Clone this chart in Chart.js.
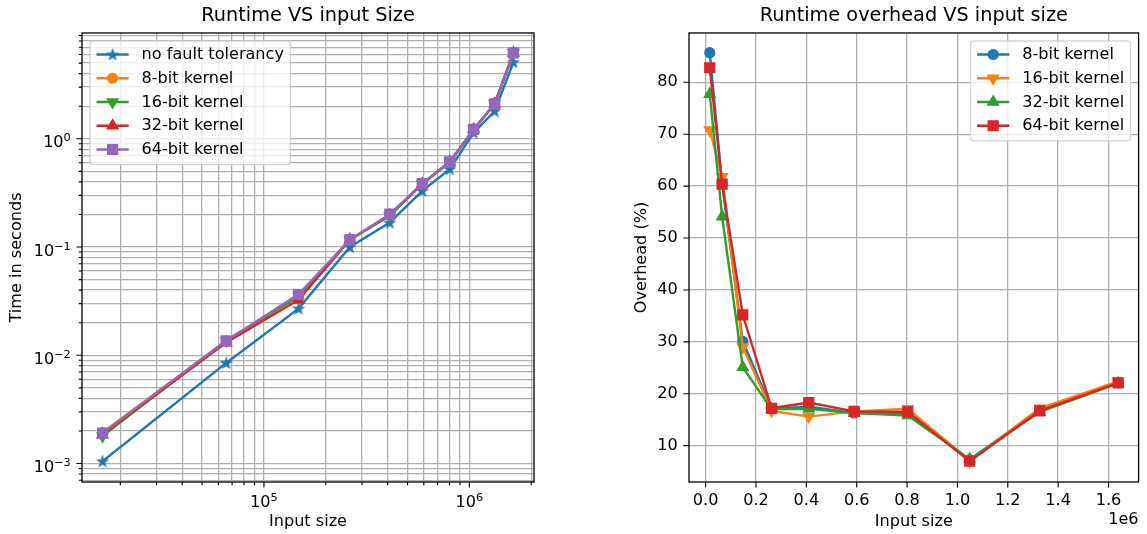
<!DOCTYPE html>
<html lang="en">
<head>
  <meta charset="UTF-8">
  <title>Runtime VS input size</title>
  <script src="https://cdn.jsdelivr.net/npm/chart.js@4.4.1/dist/chart.umd.min.js"></script>
  <style>
    html, body { margin: 0; padding: 0; background: #fff; }
    body { width: 1147px; height: 534px; position: relative; overflow: hidden; }
    canvas { position: absolute; top: 0; }
    #runtime { left: 0; }
    #overhead { left: 590px; }
  </style>
</head>
<body>
  <canvas id="runtime" width="560" height="534"></canvas>
  <canvas id="overhead" width="557" height="534"></canvas>

  <script>
    // input sizes (128^2 ... 1280^2)
    const inputSizes = [16384, 65536, 147456, 262144, 409600, 589824, 802816, 1048576, 1327104, 1638400];

    // runtime in seconds
    const timeNoFT = [0.00105, 0.0085, 0.027, 0.100, 0.168, 0.330, 0.525, 1.14, 1.80, 5.10];
    const time8    = [0.00194, 0.0136, 0.0352, 0.117, 0.197, 0.384, 0.610, 1.22, 2.10, 6.23];
    const time16   = [0.00179, 0.0137, 0.0348, 0.117, 0.194, 0.385, 0.615, 1.22, 2.11, 6.24];
    const time32   = [0.00186, 0.0131, 0.0325, 0.117, 0.197, 0.384, 0.608, 1.22, 2.10, 6.22];
    const time64   = [0.00191, 0.0136, 0.0366, 0.117, 0.201, 0.386, 0.611, 1.22, 2.10, 6.23];

    // overhead in percent
    const overhead8  = [85.7, 60.5, 30.1, 17.1, 17.5, 16.3, 16.2, 7.3, 16.8, 22.2];
    const overhead16 = [70.8, 61.8, 29.0, 16.7, 15.6, 16.6, 17.1, 7.1, 17.2, 22.4];
    const overhead32 = [77.7, 54.1, 25.1, 17.0, 17.1, 16.3, 15.8, 7.4, 16.5, 22.0];
    const overhead64 = [82.8, 60.4, 35.2, 17.2, 18.3, 16.6, 16.5, 7.0, 16.7, 22.1];

    const runtimeNames  = ['no fault tolerancy', '8-bit kernel', '16-bit kernel', '32-bit kernel', '64-bit kernel'];
    const overheadNames = ['8-bit kernel', '16-bit kernel', '32-bit kernel', '64-bit kernel'];

    // tick labels (log axes are written as 10 with a raised exponent)
    const logXMajor = [1e5, 1e6];
    const logXExp   = ['5', '6'];
    const logYMajor = [1e-3, 1e-2, 1e-1, 1];
    const logYExp   = ['\u22123', '\u22122', '\u22121', '0'];
    const ovXTicks  = [0, 200000, 400000, 600000, 800000, 1000000, 1200000, 1400000, 1600000];
    const ovXLabels = ['0.0', '0.2', '0.4', '0.6', '0.8', '1.0', '1.2', '1.4', '1.6'];
    const ovYTicks  = [10, 20, 30, 40, 50, 60, 70, 80];

    const FONT = "'DejaVu Sans', sans-serif";
    const EM = 16.1;
    Chart.defaults.font.family = FONT;
    Chart.defaults.font.size = EM;
    Chart.defaults.color = '#000';

    const blue = '#1f77b4', orange = '#ff7f0e', green = '#2ca02c', red = '#d62728', purple = '#9467bd';

    // filled 5 point star like matplotlib '*'
    function starMarker(color) {
      const c = document.createElement('canvas');
      c.width = 16; c.height = 16;
      const g = c.getContext('2d');
      g.beginPath();
      for (let k = 0; k < 10; k++) {
        const r = k % 2 ? 2.0 : 5.2;
        const a = -Math.PI / 2 + k * Math.PI / 5;
        g.lineTo(8 + r * Math.cos(a), 8.4 + r * Math.sin(a));
      }
      g.closePath();
      g.fillStyle = color;
      g.fill();
      g.strokeStyle = color;
      g.lineWidth = 1.2;
      g.stroke();
      return c;
    }

    const markers = {
      star:   { pointStyle: starMarker(blue), pointRadius: 5, pointRotation: 0 },
      circle: { pointStyle: 'circle', pointRadius: 4.8, pointRotation: 0 },
      down:   { pointStyle: 'triangle', pointRadius: 6, pointRotation: 180 },
      up:     { pointStyle: 'triangle', pointRadius: 6, pointRotation: 0 },
      square: { pointStyle: 'rect', pointRadius: 6.8, pointRotation: 0 }
    };

    function series(label, values, color, marker, i, n) {
      const m = markers[marker];
      return {
        label: label,
        data: inputSizes.map((x, k) => ({ x: x, y: values[k] })),
        borderColor: color,
        backgroundColor: color,
        borderWidth: 2.4,
        pointBackgroundColor: color,
        pointBorderColor: color,
        pointBorderWidth: 1.6,
        pointStyle: m.pointStyle,
        pointRadius: m.pointRadius,
        pointRotation: m.pointRotation,
        tension: 0,
        order: n - i   // later series on top, like matplotlib
      };
    }

    function logTicks(min, max) {
      const out = [];
      for (let e = Math.floor(Math.log10(min)); e <= Math.ceil(Math.log10(max)); e++) {
        for (let m = 1; m <= 9; m++) {
          const v = m * Math.pow(10, e);
          if (v >= min && v <= max) out.push({ value: v, major: m === 1 });
        }
      }
      return out;
    }

    // frame round the plot and outward tick marks
    const axesFrame = {
      id: 'axesFrame',
      afterDatasetsDraw(chart) {
        const { ctx, chartArea: a, scales } = chart;
        ctx.save();
        ctx.strokeStyle = '#000';
        ctx.lineWidth = 1.1;
        ctx.beginPath();
        scales.x.ticks.forEach(t => {
          const px = scales.x.getPixelForValue(t.value);
          ctx.moveTo(px, a.bottom);
          ctx.lineTo(px, a.bottom + (t.major ? 5.6 : 3.2));
        });
        scales.y.ticks.forEach(t => {
          const py = scales.y.getPixelForValue(t.value);
          ctx.moveTo(a.left, py);
          ctx.lineTo(a.left - (t.major ? 5.6 : 3.2), py);
        });
        ctx.stroke();
        ctx.lineWidth = 1.3;
        ctx.strokeRect(a.left, a.top, a.right - a.left, a.bottom - a.top);
        ctx.restore();
      }
    };

    // "10" with a smaller raised exponent for the log axes
    const mathTicks = {
      id: 'mathTicks',
      afterDraw(chart, args, opts) {
        if (!opts || !opts.xMajor) return;
        const { ctx, chartArea: a, scales } = chart;
        const big = EM + 'px ' + FONT, small = (EM * 0.7).toFixed(1) + 'px ' + FONT;
        ctx.save();
        ctx.fillStyle = '#000';
        ctx.textAlign = 'left';
        ctx.textBaseline = 'alphabetic';
        function put(left, base, exp) {
          ctx.font = big;
          const wb = ctx.measureText('10').width;
          ctx.fillText('10', left, base);
          ctx.font = small;
          ctx.fillText(exp, left + wb, base - 6);
        }
        function width(exp) {
          ctx.font = big;
          const wb = ctx.measureText('10').width;
          ctx.font = small;
          return wb + ctx.measureText(exp).width;
        }
        opts.xMajor.forEach((v, i) => {
          if (v < scales.x.min || v > scales.x.max) return;
          const px = scales.x.getPixelForValue(v);
          put(px - width(opts.xExp[i]) / 2, a.bottom + 24.7, opts.xExp[i]);
        });
        opts.yMajor.forEach((v, i) => {
          if (v < scales.y.min || v > scales.y.max) return;
          const py = scales.y.getPixelForValue(v);
          put(a.left - 11.2 - width(opts.yExp[i]), py + 8.6, opts.yExp[i]);
        });
        ctx.restore();
      }
    };

    // matplotlib style legend inside the axes
    const boxLegend = {
      id: 'boxLegend',
      afterDraw(chart, args, opts) {
        const { ctx, chartArea: a } = chart;
        const sets = chart.data.datasets;
        ctx.save();
        ctx.font = EM + 'px ' + FONT;
        const textW = Math.max(...sets.map(d => ctx.measureText(d.label).width));
        const pad = 0.4 * EM, handle = 2 * EM, gap = 0.8 * EM, rowH = 15.7, spacing = 0.5 * EM;
        const w = pad + handle + gap + textW + pad;
        const h = 2 * pad + sets.length * rowH + (sets.length - 1) * spacing;
        const x0 = opts.side === 'left' ? a.left + 0.5 * EM : a.right - 0.5 * EM - w;
        const y0 = a.top + 0.5 * EM;

        ctx.beginPath();
        if (ctx.roundRect) ctx.roundRect(x0, y0, w, h, 3); else ctx.rect(x0, y0, w, h);
        ctx.fillStyle = 'rgba(255,255,255,0.8)';
        ctx.fill();
        ctx.strokeStyle = 'rgba(204,204,204,0.8)';
        ctx.lineWidth = 1.3;
        ctx.stroke();

        sets.forEach((d, i) => {
          const cy = y0 + pad + rowH / 2 - 0.8 + i * (rowH + spacing);
          const lx = x0 + pad;
          ctx.strokeStyle = d.borderColor;
          ctx.lineWidth = d.borderWidth;
          ctx.beginPath();
          ctx.moveTo(lx, cy);
          ctx.lineTo(lx + handle, cy);
          ctx.stroke();
          ctx.fillStyle = d.pointBackgroundColor;
          ctx.strokeStyle = d.pointBorderColor;
          ctx.lineWidth = d.pointBorderWidth;
          Chart.helpers.drawPoint(ctx, {
            pointStyle: d.pointStyle,
            rotation: d.pointRotation,
            radius: d.pointRadius,
            borderWidth: d.pointBorderWidth
          }, lx + handle / 2, cy);
          ctx.fillStyle = '#000';
          ctx.textAlign = 'left';
          ctx.textBaseline = 'middle';
          ctx.fillText(d.label, lx + handle + gap, cy + 0.5);
        });
        ctx.restore();
      }
    };

    // the "1e6" offset text under the x axis
    const offsetText = {
      id: 'offsetText',
      afterDraw(chart, args, opts) {
        if (!opts || !opts.text) return;
        const { ctx, chartArea: a } = chart;
        ctx.save();
        ctx.font = EM + 'px ' + FONT;
        ctx.fillStyle = '#000';
        ctx.textAlign = 'right';
        ctx.textBaseline = 'middle';
        ctx.fillText(opts.text, a.right, a.bottom + 38);
        ctx.restore();
      }
    };

    function makeOptions(cfg) {
      return {
        responsive: false,
        animation: false,
        devicePixelRatio: 1,
        events: [],
        layout: { padding: { left: 0, right: cfg.padRight, top: 0, bottom: 0 } },
        plugins: {
          legend: { display: false },
          tooltip: { enabled: false },
          title: {
            display: true,
            text: cfg.title,
            fullSize: false,
            color: '#000',
            font: { size: 19.3, weight: 'normal' },
            padding: { top: 4.7, bottom: 5.1 }
          },
          boxLegend: { side: cfg.legendSide },
          offsetText: { text: cfg.offset || '' },
          mathTicks: cfg.math || {}
        },
        scales: {
          x: {
            type: cfg.xType,
            min: cfg.xMin,
            max: cfg.xMax,
            afterBuildTicks: s => { s.ticks = cfg.xTicks(); },
            afterFit: s => { s.height = 52; },
            grid: { color: '#b0b0b0', lineWidth: 1.3, drawTicks: false },
            border: { display: false },
            ticks: { autoSkip: false, maxRotation: 0, minRotation: 0, padding: 9.1, callback: cfg.xLabel },
            title: { display: true, text: 'Input size', padding: { top: 0, bottom: 2.3 } }
          },
          y: {
            type: cfg.yType,
            min: cfg.yMin,
            max: cfg.yMax,
            afterBuildTicks: s => { s.ticks = cfg.yTicks(); },
            afterFit: s => { s.width = cfg.yWidth; },
            grid: { color: '#b0b0b0', lineWidth: 1.3, drawTicks: false },
            border: { display: false },
            ticks: { autoSkip: false, padding: 11.2, callback: cfg.yLabel },
            title: { display: true, text: cfg.yTitle, padding: { top: cfg.yTitlePad, bottom: 0 } }
          }
        }
      };
    }

    // left chart: runtime, log-log
    const runtimeSets = [
      series(runtimeNames[0], timeNoFT, blue, 'star', 0, 5),
      series(runtimeNames[1], time8, orange, 'circle', 1, 5),
      series(runtimeNames[2], time16, green, 'down', 2, 5),
      series(runtimeNames[3], time32, red, 'up', 3, 5),
      series(runtimeNames[4], time64, purple, 'square', 4, 5)
    ];

    new Chart(document.getElementById('runtime'), {
      type: 'line',
      data: { datasets: runtimeSets },
      options: makeOptions({
        title: 'Runtime VS input Size',
        padRight: 26,
        legendSide: 'left',
        xType: 'logarithmic', xMin: 13014, xMax: 2063000,
        xTicks: () => logTicks(13014, 2063000),
        xLabel: () => '',
        yType: 'logarithmic', yMin: 6.75e-4, yMax: 9.5,
        yTicks: () => logTicks(6.75e-4, 9.5),
        yLabel: () => '',
        yWidth: 82,
        yTitle: 'Time in seconds',
        yTitlePad: 7,
        math: { xMajor: logXMajor, xExp: logXExp, yMajor: logYMajor, yExp: logYExp }
      }),
      plugins: [axesFrame, mathTicks, boxLegend, offsetText]
    });

    // right chart: overhead, linear
    const overheadSets = [
      series(overheadNames[0], overhead8, blue, 'circle', 0, 4),
      series(overheadNames[1], overhead16, orange, 'down', 1, 4),
      series(overheadNames[2], overhead32, green, 'up', 2, 4),
      series(overheadNames[3], overhead64, red, 'square', 3, 4)
    ];

    new Chart(document.getElementById('overhead'), {
      type: 'line',
      data: { datasets: overheadSets },
      options: makeOptions({
        title: 'Runtime overhead VS input size',
        padRight: 5,
        legendSide: 'right',
        offset: '1e6',
        xType: 'linear', xMin: -66000, xMax: 1719500,
        xTicks: () => ovXTicks.map(v => ({ value: v, major: true })),
        xLabel: (v, i) => ovXLabels[i],
        yType: 'linear', yMin: 3.0, yMax: 89.5,
        yTicks: () => ovYTicks.map(v => ({ value: v, major: true })),
        yLabel: v => String(v),
        yWidth: 99,
        yTitle: 'Overhead (%)',
        yTitlePad: 42
      }),
      plugins: [axesFrame, mathTicks, boxLegend, offsetText]
    });
  </script>
</body>
</html>
